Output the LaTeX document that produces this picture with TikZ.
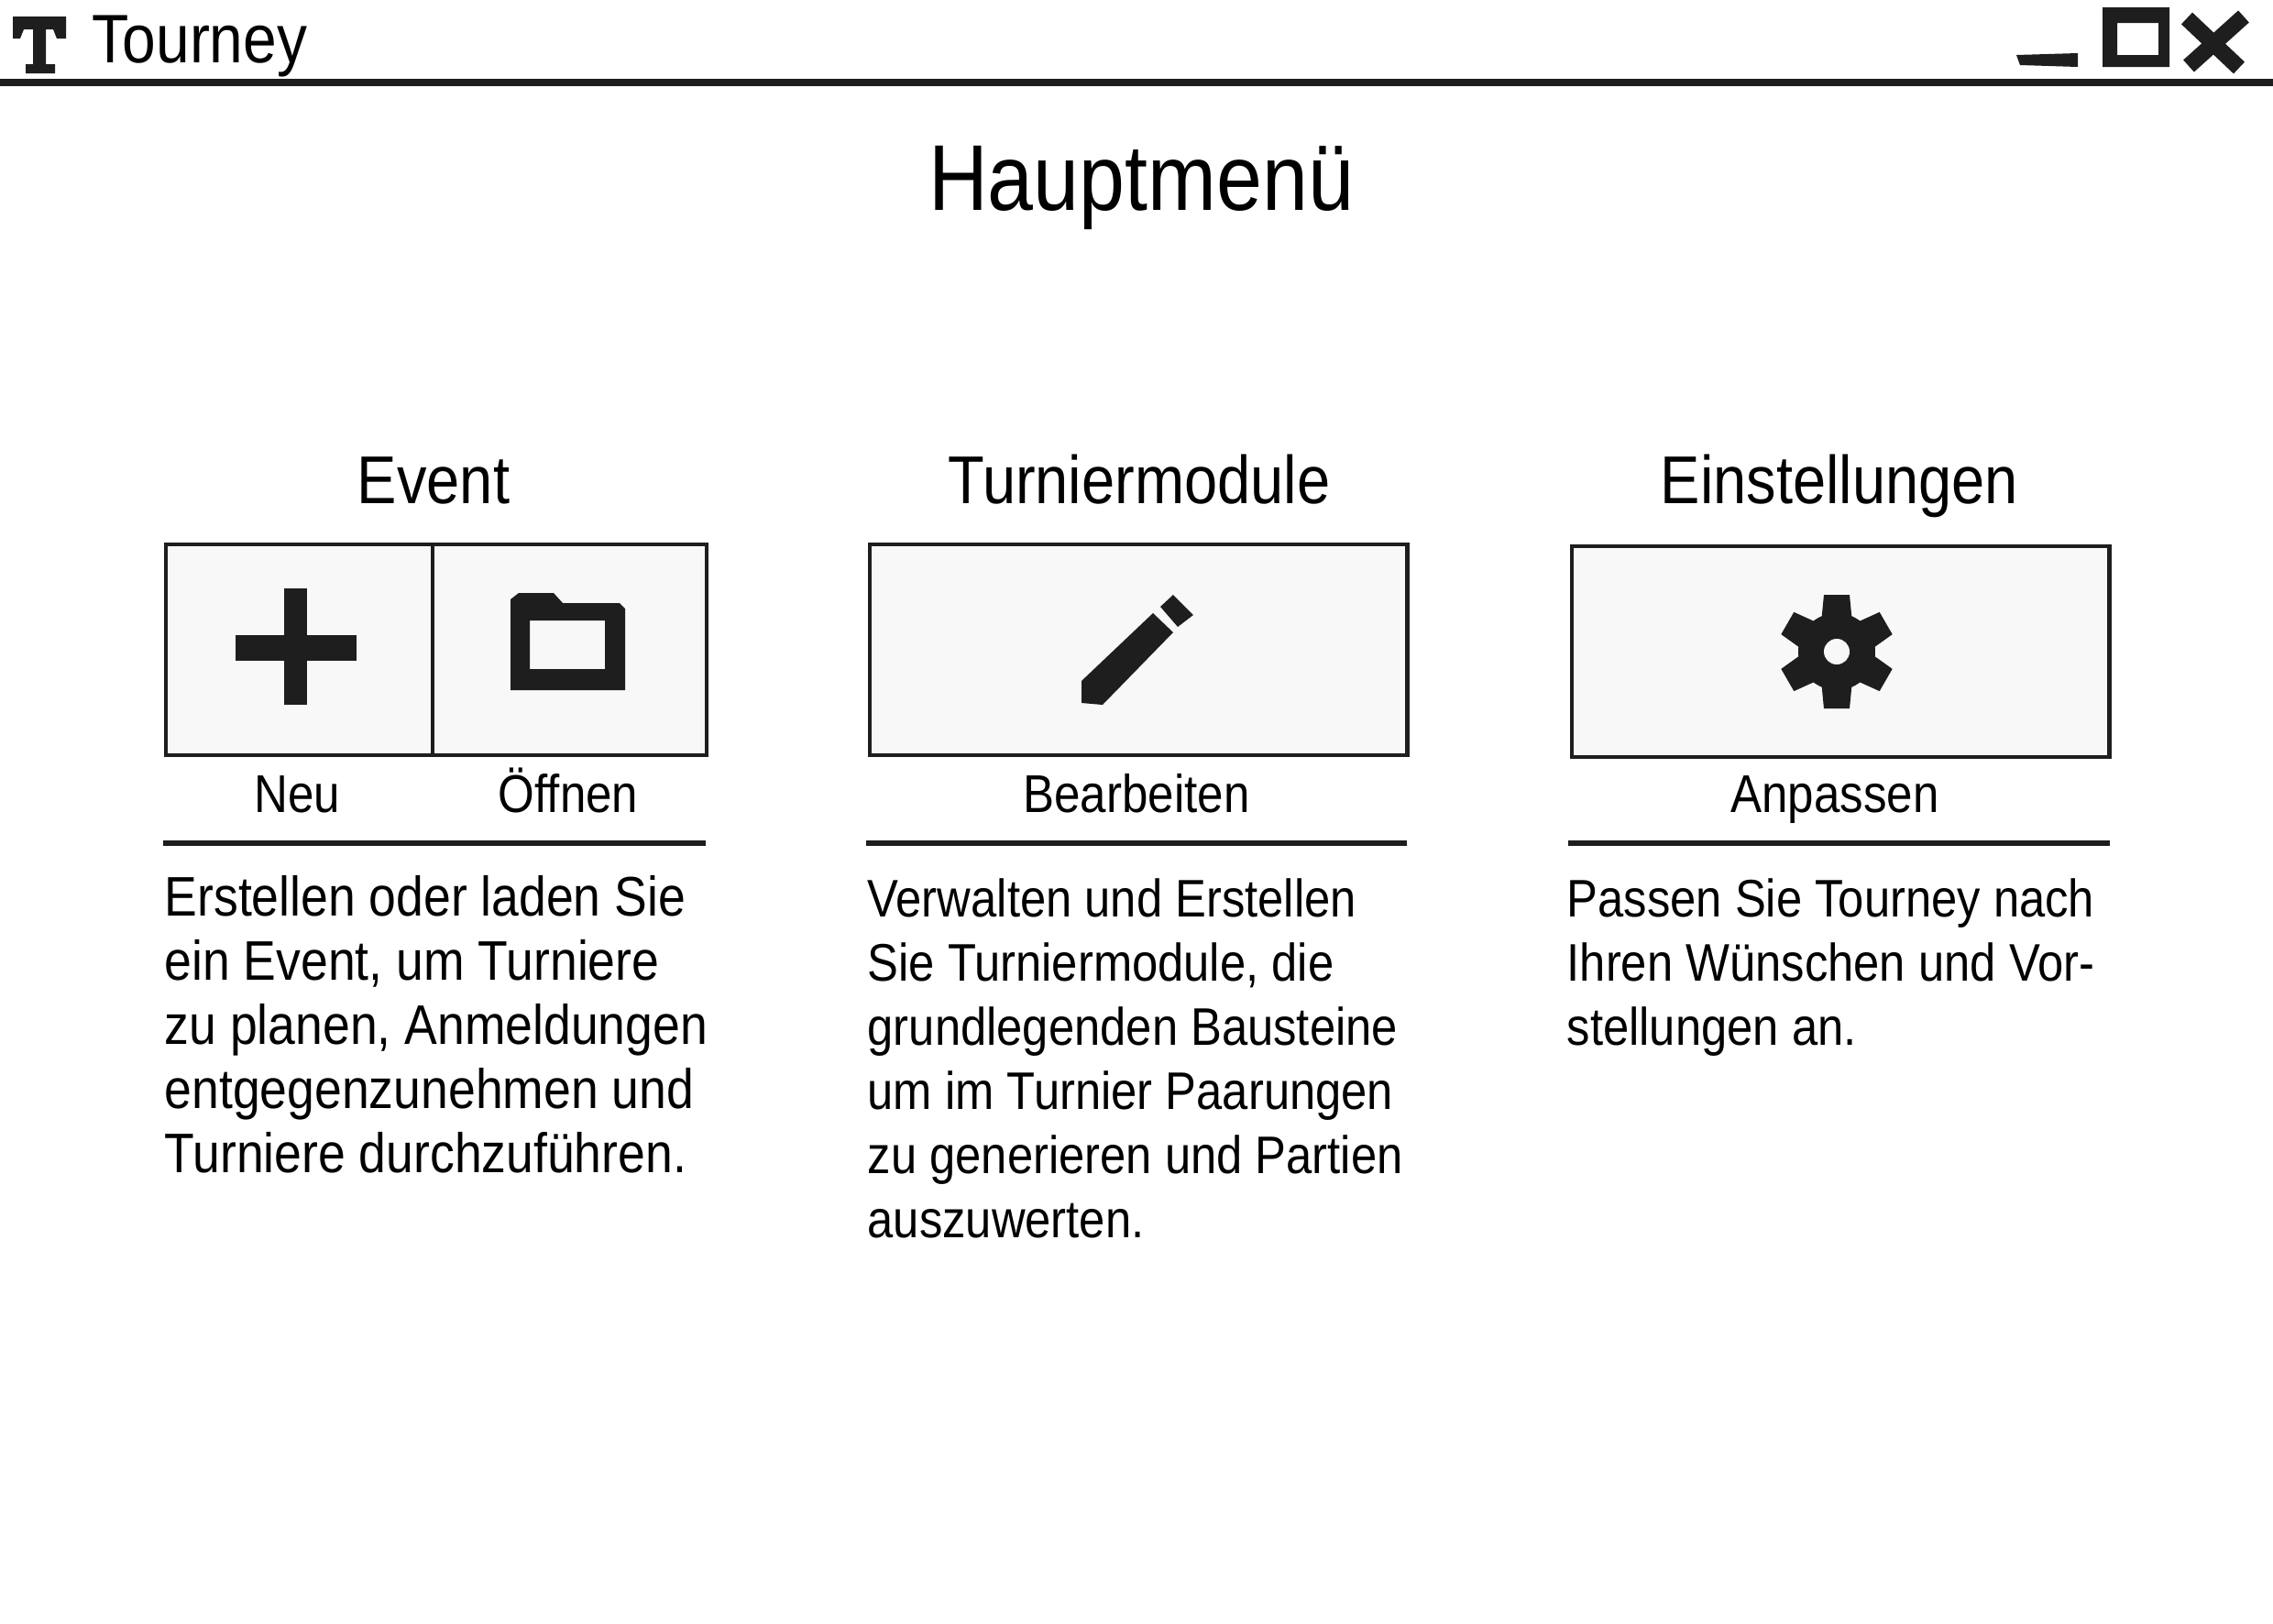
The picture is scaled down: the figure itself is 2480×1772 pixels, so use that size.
\documentclass[tikz,border=0pt]{standalone}
\usepackage{fontspec}
\setmainfont[FakeStretch=0.88]{Liberation Sans}
\definecolor{pencil}{HTML}{1E1E1E}
\definecolor{paper}{HTML}{F8F8F8}
\tikzset{
  pagetitle/.style={font=\fontsize{29}{29}\selectfont, inner sep=0pt, anchor=base},
  heading/.style={font=\fontsize{21}{21}\selectfont, inner sep=0pt, anchor=base},
  caption/.style={font=\fontsize{16.5}{16.5}\selectfont, inner sep=0pt, anchor=base},
  bodytext/.style={font=\fontsize{16.4}{19.9}\selectfont, inner sep=0pt, anchor=north west, align=left},
  sketchbox/.style={draw=pencil, fill=paper, line width=1.2pt, inner sep=0pt, anchor=north west},
  sketchrule/.style={draw=pencil, line width=1.7pt},
  icon/.style={fill=pencil, draw=none}
}
\begin{document}
\begin{tikzpicture}[x=0.01cm, y=-0.01cm]
  \useasboundingbox (0,0) rectangle (2480,1772);

  % Window bar
  \draw[sketchrule, line width=2pt] (0,90) -- (2480,90);
  \fill[icon] (14,18) -- (72,18) -- (72,42) -- (62,42) -- (58,32) -- (50,32) -- (50,70) -- (60,70) -- (60,80) -- (28,80) -- (28,70) -- (36,70) -- (36,32) -- (26,32) -- (22,42) -- (14,42) -- cycle;
  \node[heading, font=\fontsize{21.3}{21.3}\selectfont, anchor=base west] (apptitle) at (100,68) {Tourney};
  \fill[icon] (2200,60) -- (2267,58) -- (2267,73) -- (2204,71) -- cycle;
  \fill[icon, even odd rule] (2294,8) rectangle (2367,73) (2310,25) rectangle (2355,60);
  \draw[pencil, line width=5pt] (2386,20) -- (2443,74);
  \draw[pencil, line width=5pt] (2448,18) -- (2388,72);

  % Page title
  \node[pagetitle] (hauptmenu) at (1245,229) {Hauptmenü};

  % Event
  \node[heading] (event) at (473,549) {Event};
  \node[sketchbox, minimum width=2.91cm, minimum height=2.30cm] (neubox) at (179,592) {};
  \node[sketchbox, minimum width=2.99cm, minimum height=2.30cm] (offnenbox) at (470,592) {};
  \fill[icon] (310,642) rectangle (335,769);
  \fill[icon] (257,693) rectangle (389,721);
  \fill[icon, even odd rule] (557,753) -- (557,654) -- (566,647) -- (604,647) -- (614,658) -- (676,658) -- (682,664) -- (682,753) -- cycle
    (578,677) rectangle (660,730);
  \node[caption] (neu) at (324,886) {Neu};
  \node[caption] (offnen) at (620,886) {Öffnen};
  \draw[sketchrule] (178,920) -- (770,920);
  \node[bodytext, font=\fontsize{17.3}{19.9}\selectfont] (eventtext) at (179,955) {Erstellen oder laden Sie\\ein Event, um Turniere\\zu planen, Anmeldungen\\entgegenzunehmen und\\Turniere durchzuführen.};

  % Turniermodule
  \node[heading] (module) at (1243,549) {Turniermodule};
  \node[sketchbox, minimum width=5.86cm, minimum height=2.30cm] (modulebox) at (947,592) {};
  \fill[icon] (1180,767) -- (1180,743) -- (1258,669) -- (1280,690) -- (1203,769) -- cycle;
  \fill[icon] (1266,662) -- (1280,649) -- (1302,671) -- (1285,684) -- cycle;
  \node[caption] (bearbeiten) at (1240,886) {Bearbeiten};
  \draw[sketchrule] (945,920) -- (1535,920);
  \node[bodytext] (moduletext) at (946,958) {Verwalten und Erstellen\\Sie Turniermodule, die\\grundlegenden Bausteine\\um im Turnier Paarungen\\zu generieren und Partien\\auszuwerten.};

  % Einstellungen
  \node[heading] (settings) at (2007,549) {Einstellungen};
  \node[sketchbox, minimum width=5.86cm, minimum height=2.30cm] (settingsbox) at (1713,594) {};
  \fill[icon] (2004,711) circle (42);
  \foreach \angle in {0,60,...,300}
    \fill[icon, rotate around={\angle:(2004,711)}] (1990,649) -- (2018,649) -- (2022,690) -- (1986,690) -- cycle;
  \fill[paper] (2004,711) circle (14);
  \node[caption] (anpassen) at (2002,886) {Anpassen};
  \draw[sketchrule] (1711,920) -- (2302,920);
  \node[bodytext] (settingstext) at (1709,958) {Passen Sie Tourney nach\\Ihren Wünschen und Vor-\\stellungen an.};
\end{tikzpicture}
\end{document}
